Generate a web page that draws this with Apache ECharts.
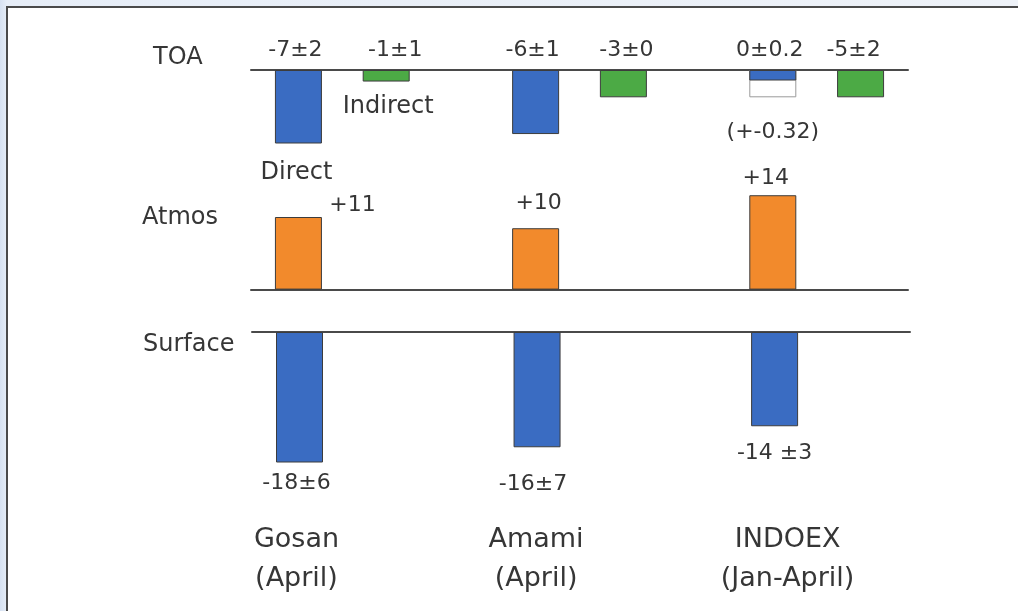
<!DOCTYPE html>
<html>
<head>
<meta charset="utf-8">
<script src="https://cdn.jsdelivr.net/npm/echarts@6/dist/echarts.min.js"></script>
<style>
html, body { margin: 0; padding: 0; background: #e8eef7; }
#chart { width: 1018px; height: 611px; }
</style>
</head>
<body>
<div id="chart"></div>
<script>
// 站点及各层强迫值（柱长按图上量取）
const stations = ['Gosan\n(April)', 'Amami\n(April)', 'INDOEX\n(Jan-April)']
const rowNames = ['TOA', 'Atmos', 'Surface']
const toaDirect = [-7, -6.1, -1]
const toaDirectRange = [null, null, -2.6]
const toaIndirect = [-1.1, -2.6, -2.6]
const atmos = [11, 9.3, 14.3]
const surface = [-18, -15.9, -13]
// 柱上标注文字
const toaDirectText = ['-7±2', '-6±1', '0±0.2']
const toaRangeText = '(+-0.32)'
const toaIndirectText = ['-1±1', '-3±0', '-5±2']
const atmosText = ['+11', '+10', '+14']
const surfaceText = ['-18±6', '-16±7', '-14 ±3']

// 标注微调（像素）
const toaIndirectOffset = [[9, 0], [3, 0], [-7, 0]]
const atmosOffset = [[54, 7], [3, -6], [-7, 2]]
const surfaceOffset = [[-3, 0], [-4, 16], [0, 6]]
const stationShift = [-6, -2, 26]

const FONT = 'DejaVu Sans'
const TXT = '#363636'
const BLUE = '#3a6cc2'
const GREEN = '#4caa45'
const ORANGE = '#f28a2c'
const EDGE = '#3c3c3c'

let chart = echarts.init(document.getElementById('chart'))

const xRange = { min: -0.2, max: 2.57 }

function pts(arr) {
    return arr.map((v, i) => [i, v])
}
function withOffset(arr, offs) {
    return arr.map((v, i) => ({ value: [i, v], label: { offset: offs[i] } }))
}
function valueLabel(texts, extra) {
    return Object.assign({
        show: true,
        fontFamily: FONT,
        fontSize: 22,
        color: TXT,
        formatter: p => texts[p.dataIndex]
    }, extra)
}
function lineAxis(grid, extra) {
    return Object.assign({
        type: 'value',
        gridIndex: grid,
        min: xRange.min,
        max: xRange.max,
        axisLine: { show: true, onZero: true, lineStyle: { color: '#4a4a4a', width: 2 } },
        axisTick: { show: false },
        axisLabel: { show: false },
        splitLine: { show: false }
    }, extra)
}
function hiddenY(grid, min, max) {
    return { type: 'value', gridIndex: grid, min, max, show: false, splitLine: { show: false } }
}

// 站名用富文本，按站错开
let stationRich = {}
stationShift.forEach((s, i) => {
    stationRich['s' + i] = {
        fontFamily: FONT,
        fontSize: 27,
        lineHeight: 39,
        color: TXT,
        padding: s > 0 ? [0, 0, 0, s] : [0, -s, 0, 0]
    }
})

let option = {
    backgroundColor: {
        type: 'linear', x: 0, y: 0, x2: 1, y2: 0,
        colorStops: [
            { offset: 0, color: '#d6e1f1' },
            { offset: 0.007, color: '#e6edf7' },
            { offset: 1, color: '#eef2f8' }
        ]
    },
    textStyle: { fontFamily: FONT },
    graphic: [{
        type: 'rect',
        z: -10,
        silent: true,
        shape: { x: 7, y: 7, width: 1100, height: 700 },
        style: { fill: '#fff', stroke: '#4a4a4a', lineWidth: 2 }
    }],
    title: [
        { text: rowNames[0], left: 153, top: 46 },
        { text: rowNames[1], left: 142, top: 206 },
        { text: rowNames[2], left: 143, top: 333 }
    ].map(t => Object.assign(t, {
        padding: 0,
        textStyle: { fontFamily: FONT, fontSize: 24, fontWeight: 'normal', color: TXT }
    })),
    grid: [
        { left: 251, right: 110, top: 70, height: 84 },
        { left: 251, right: 110, top: 184, height: 105.6 },
        { left: 252, right: 108, top: 332, height: 145 }
    ],
    xAxis: [
        lineAxis(0, { position: 'top' }),
        // 间接效应柱向右错开
        lineAxis(0, { position: 'bottom', min: xRange.min - 0.37, max: xRange.max - 0.37, axisLine: { show: false } }),
        lineAxis(1, { position: 'bottom' }),
        lineAxis(2, { position: 'top' }),
        lineAxis(2, {
            position: 'bottom',
            axisLine: { show: false, onZero: false },
            axisLabel: {
                show: true,
                customValues: [0, 1, 2],
                margin: 43,
                fontFamily: FONT,
                fontSize: 27,
                lineHeight: 39,
                color: TXT,
                rich: stationRich,
                formatter: v => {
                    let i = Math.round(v)
                    return stations[i].split('\n').map(s => '{s' + i + '|' + s + '}').join('\n')
                }
            }
        })
    ],
    yAxis: [
        hiddenY(0, -8, 0),
        hiddenY(1, 0, 16),
        hiddenY(2, -20, 0)
    ],
    series: [
        {
            name: 'Direct range',
            type: 'bar',
            xAxisIndex: 0,
            yAxisIndex: 0,
            barWidth: 47,
            barGap: '-100%',
            data: pts(toaDirectRange),
            itemStyle: { color: '#fff', borderColor: '#9a9a9a', borderWidth: 1 },
            label: valueLabel([], { position: 'bottom', distance: 24, formatter: toaRangeText })
        },
        {
            name: 'Direct',
            type: 'bar',
            xAxisIndex: 0,
            yAxisIndex: 0,
            barWidth: 47,
            barGap: '-100%',
            data: pts(toaDirect),
            itemStyle: { color: BLUE, borderColor: EDGE, borderWidth: 1 },
            label: valueLabel(toaDirectText, { position: 'top', distance: 9, offset: [-3, 0] }),
            markPoint: {
                symbol: 'rect',
                symbolSize: 1,
                itemStyle: { color: 'rgba(0,0,0,0)' },
                data: [{ coord: [0, toaDirect[0]] }],
                label: { show: true, position: 'bottom', distance: 17, offset: [-2, 0], formatter: 'Direct', fontFamily: FONT, fontSize: 24, color: TXT }
            }
        },
        {
            name: 'Indirect',
            type: 'bar',
            xAxisIndex: 1,
            yAxisIndex: 0,
            barWidth: 47,
            data: withOffset(toaIndirect, toaIndirectOffset),
            itemStyle: { color: GREEN, borderColor: EDGE, borderWidth: 1 },
            label: valueLabel(toaIndirectText, { position: 'top', distance: 9 }),
            markPoint: {
                symbol: 'rect',
                symbolSize: 1,
                itemStyle: { color: 'rgba(0,0,0,0)' },
                data: [{ coord: [0, toaIndirect[0]] }],
                label: { show: true, position: 'bottom', distance: 13, offset: [2, 0], formatter: 'Indirect', fontFamily: FONT, fontSize: 24, color: TXT }
            }
        },
        {
            name: 'Atmos',
            type: 'bar',
            xAxisIndex: 2,
            yAxisIndex: 1,
            barWidth: 47,
            data: withOffset(atmos, atmosOffset),
            itemStyle: { color: ORANGE, borderColor: EDGE, borderWidth: 1 },
            label: valueLabel(atmosText, { position: 'top', distance: 8 })
        },
        {
            name: 'Surface',
            type: 'bar',
            xAxisIndex: 3,
            yAxisIndex: 2,
            barWidth: 47,
            data: withOffset(surface, surfaceOffset),
            itemStyle: { color: BLUE, borderColor: EDGE, borderWidth: 1 },
            label: valueLabel(surfaceText, { position: 'bottom', distance: 10 })
        }
    ]
}
chart.setOption(option)
</script>
</body>
</html>
